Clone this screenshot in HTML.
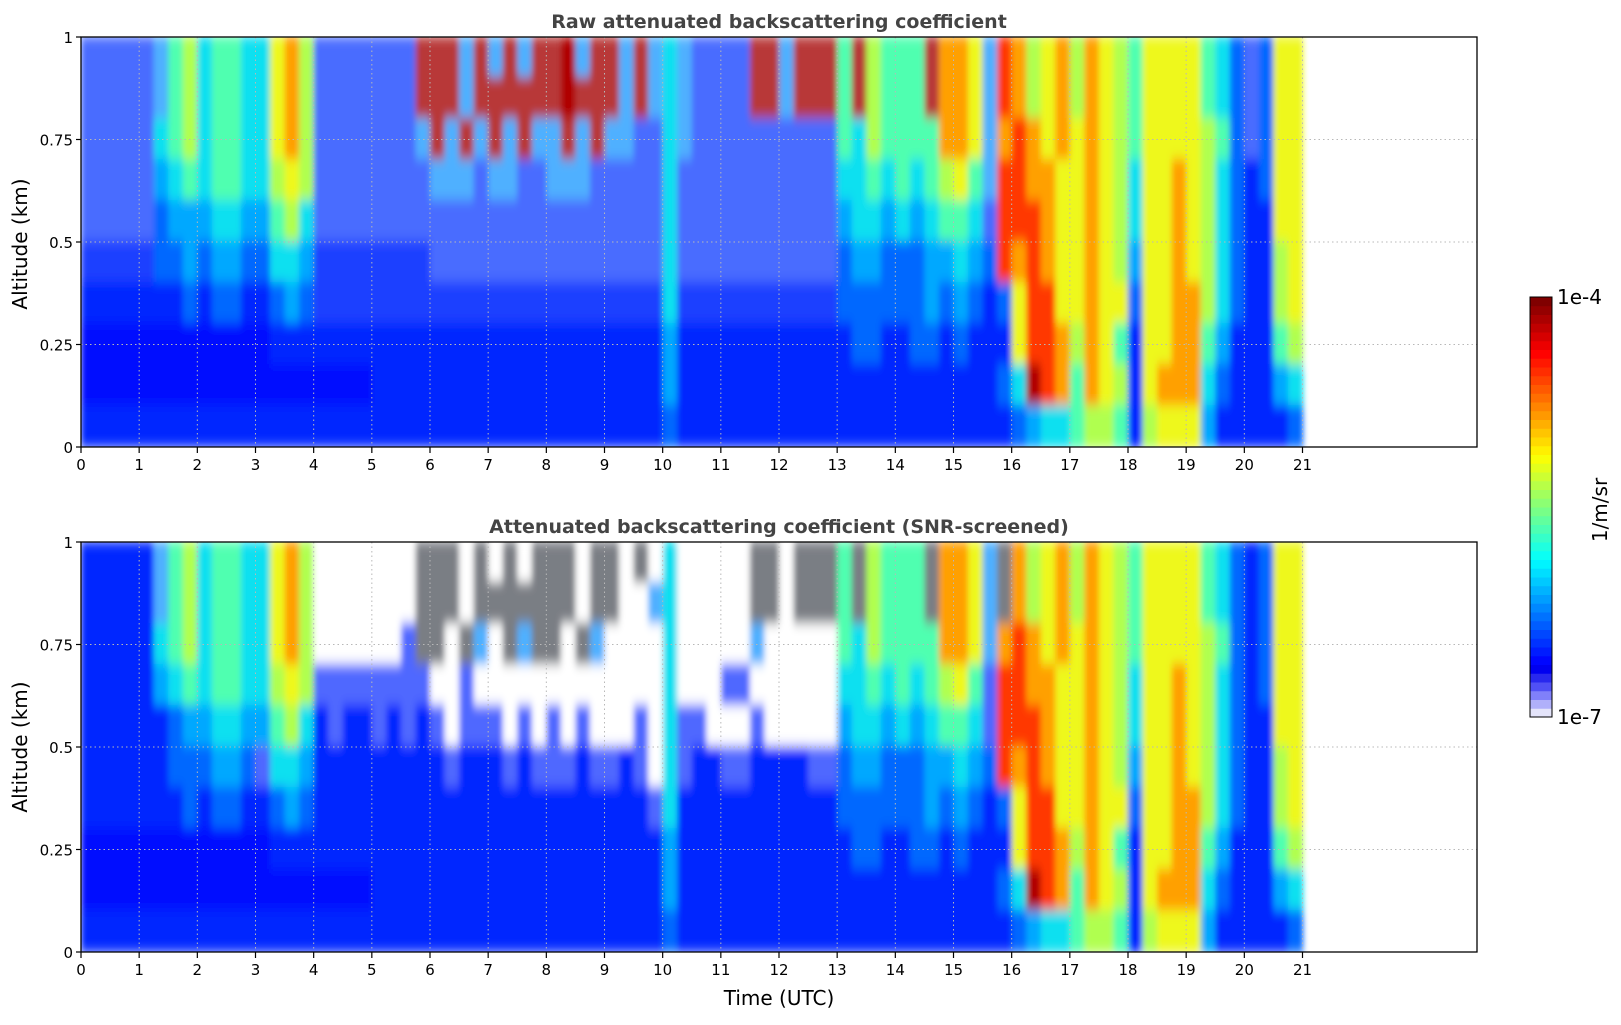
<!DOCTYPE html>
<html><head><meta charset="utf-8"><title>Attenuated backscatter</title>
<style>
html,body{margin:0;padding:0;background:#fff;}
svg text{font-family:"DejaVu Sans","Liberation Sans",sans-serif;}
</style></head>
<body>
<svg id="chart" xmlns="http://www.w3.org/2000/svg" width="1621" height="1020" viewBox="0 0 1621 1020">
<defs>
<clipPath id="clipTop"><rect x="81" y="37" width="1396" height="410"/></clipPath>
<clipPath id="clipBot"><rect x="81" y="542" width="1396" height="410"/></clipPath>
<filter id="soft" x="-5%" y="-5%" width="110%" height="110%"><feGaussianBlur stdDeviation="3 6"/></filter>
</defs>
<text x="779" y="28" text-anchor="middle" font-size="19" font-weight="bold" fill="#444">Raw attenuated backscattering coefficient</text>
<text x="779" y="533" text-anchor="middle" font-size="19" font-weight="bold" fill="#444">Attenuated backscattering coefficient (SNR-screened)</text>
<g id="topPanel"></g>
<g id="botPanel"></g>
<text x="779" y="1005" text-anchor="middle" font-size="20" fill="#000">Time (UTC)</text>
<text transform="translate(27,244) rotate(-90)" text-anchor="middle" font-size="20">Altitude (km)</text>
<text transform="translate(27,747) rotate(-90)" text-anchor="middle" font-size="20">Altitude (km)</text>
<g id="cbar"></g>
<text x="1557" y="304" font-size="20">1e-4</text>
<text x="1557" y="724" font-size="20">1e-7</text>
<text transform="translate(1607,510) rotate(-90)" text-anchor="middle" font-size="20">1/m/sr</text>
</svg>
<script>
// ---- data: 0.25 h time bins (0-21 h), rows of 0.1 km from top (0.9-1.0) to bottom (0-0.1)
const timeTicks = [0,1,2,3,4,5,6,7,8,9,10,11,12,13,14,15,16,17,18,19,20,21];
const altTicks = [0,0.25,0.5,0.75,1];
const altTickLabels = ["0","0.25","0.5","0.75","1"];
const binHours = 0.25;
const binKm = 0.1;
const rawRows = [
"nnnn nc67 5665 5897 nnnn nnnx xxcx cxcx xdcx xcxc 5cnn nnxx cxxx 6x76 66x9 98cr 9789 7987 6888 8653 n388",
"nnnn nc67 5665 5897 nnnn nnnx xxcx xxxx xdxx xcxc 5cnn nnxx cxxx 6x76 66x9 98cr 9789 7987 6888 8653 n388",
"nnnn n567 5665 5897 nnnn nnnc xcxc xcxc cxcx ccnn 5cnn nnnn nnnn 6576 6669 98c9 r989 8987 6888 8763 n388",
"nnnn n456 5665 5787 nnnn nnnn cccn ccnn cccn nnnn 5nnn nnnn nnnn 5565 6567 86cr r998 8987 5889 8753 2388",
"nnnn n344 4554 4675 nnnn nnnn nnnn nnnn nnnn nnnn 5nnn nnnn nnnn 4554 5456 65nr rr98 8987 5889 8753 2288",
"oooo o334 3443 3554 oooo oooo nnnn nnnn nnnn nnnn 5nnn nnnn nnnn 3443 3344 543r 9r98 8987 4889 8753 2278",
"2222 2223 2332 2343 oooo oooo oooo oooo oooo oooo 5ooo oooo oooo 3333 3343 4323 8rr8 8988 3889 9753 2278",
"1111 1111 1111 1222 2222 2222 2222 2222 2222 2222 4222 2222 2222 2332 2332 3222 8rr9 7986 2889 9642 2267",
"1111 1111 1111 1111 1111 2222 2222 2222 2222 2222 4222 2222 2222 2222 2222 2223 5dr9 6987 2899 9532 2245",
"2222 2222 2222 2222 2222 2222 2222 2222 2222 2222 3222 2222 2222 2222 2222 2222 3455 6776 2788 8422 2223"
];
const screenedRows = [
"2222 2c67 5665 5897 .... ...k kk.k .k.k kk.k k.k. 5... ..kk .kkk 6k76 66k9 98ck 9789 7987 6888 8653 2388",
"2222 2c67 5665 5897 .... ...k kk.k kkkk kk.k k..c 5... ..kk .kkk 6k76 66k9 98ck 9789 7987 6888 8653 2388",
"2222 2567 5665 5897 .... ..pk k.kc .kck k.kc .... 5... ..c. .... 6576 6669 98c9 r989 8987 6888 8763 2388",
"2222 2456 5665 5787 pppp pppp ..p. .... .... .... 5... pp.. .... 5565 6567 86pr r998 8987 5889 8753 2388",
"2222 2234 4554 4675 2p22 p2p2 p.pp p.p. p.p. ..p. 5pp. ..p. .... 4554 5456 65pr rr98 8987 5889 8753 2288",
"2222 2233 3443 p554 2222 2222 2p22 2p2p pp2p p2p. 5p22 pp22 22pp 3443 3344 543r 9r98 8987 4889 8753 2278",
"2222 2223 2332 2343 2222 2222 2222 2222 2222 222p 5222 2222 2222 3333 3343 4323 8rr8 8988 3889 9753 2278",
"1111 1111 1111 1222 2222 2222 2222 2222 2222 2222 4222 2222 2222 2332 2332 3222 8rr9 7986 2889 9642 2267",
"1111 1111 1111 1111 1111 2222 2222 2222 2222 2222 4222 2222 2222 2222 2222 2223 5dr9 6987 2899 9532 2245",
"2222 2222 2222 2222 2222 2222 2222 2222 2222 2222 3222 2222 2222 2222 2222 2222 3455 6776 2788 8422 2223"
];
// ---- styling
const levelColors = {'.':'#ffffff','n':'#4a6cff','o':'#1c40ff','c':'#50b0ff','x':'#b83838','k':'#7a7e84','p':'#5068ff',
 '1':'#0010ff','2':'#0028ff','3':'#0068ff','4':'#00a8ff','5':'#10e0f0','6':'#50ffb0','7':'#b0ff50','8':'#eef81c','9':'#ffa000','r':'#ff3800','d':'#b00000'};
const NS = 'http://www.w3.org/2000/svg';
const X0 = 81, X1 = 1477, TMAX = 24, PH = 410;
function xs(t){ return X0 + t / TMAX * (X1 - X0); }
function ys(a, top){ return top + (1 - a) * PH; }
function mk(tag, attrs, parent){ const e = document.createElementNS(NS, tag); for (const k in attrs) e.setAttribute(k, attrs[k]); parent.appendChild(e); return e; }

function drawPanel(gid, rows, top, clipId, nameBase){
  const g = document.getElementById(gid);
  const clipG = mk('g', {'clip-path':'url(#'+clipId+')'}, g);
  const hm = mk('g', {filter:'url(#soft)'}, clipG);
  
  
  rows.forEach((rowStr, r) => {
    const s = rowStr.replace(/ /g, '');
    const aTop = 1 - r * binKm, aBot = 1 - (r + 1) * binKm;
    for (let c = 0; c < s.length; c++) {
      const t0 = c * binHours, t1 = (c + 1) * binHours;
      const rc = mk('rect', {x: xs(t0), y: ys(aTop, top) - 1, width: xs(t1) - xs(t0) + 0.6, height: ys(aBot, top) - ys(aTop, top) + 2, fill: levelColors[s[c]] || '#0028ff'}, hm);
      
      
    }
  });
  timeTicks.forEach(t => {
    const l = mk('line', {x1: xs(t), x2: xs(t), y1: top, y2: top + PH, stroke: '#b8b8b8', 'stroke-width': 1, 'stroke-dasharray': '1.5 3'}, g);
    
    
  });
  altTicks.forEach(a => {
    const l = mk('line', {x1: X0, x2: X1, y1: ys(a, top), y2: ys(a, top), stroke: '#b8b8b8', 'stroke-width': 1, 'stroke-dasharray': '1.5 3'}, g);
    
    
  });
  const fr = mk('rect', {x: X0, y: top, width: X1 - X0, height: PH, fill: 'none', stroke: '#000', 'stroke-width': 1.3}, g);
  
  
  timeTicks.forEach(t => {
    const tk = mk('line', {x1: xs(t), x2: xs(t), y1: top + PH, y2: top + PH + 6, stroke: '#000', 'stroke-width': 1.2}, g);
    
    
    const tx = mk('text', {x: xs(t), y: top + PH + 23, 'text-anchor': 'middle', 'font-size': 15}, g);
    tx.textContent = String(t);
    
    
  });
  altTicks.forEach((a, i) => {
    const tk = mk('line', {x1: X0 - 5, x2: X0, y1: ys(a, top), y2: ys(a, top), stroke: '#000', 'stroke-width': 1.2}, g);
    
    
    const tx = mk('text', {x: X0 - 8, y: ys(a, top) + 6, 'text-anchor': 'end', 'font-size': 15}, g);
    tx.textContent = altTickLabels[i];
    
    
  });
}
drawPanel('topPanel', rawRows, 37, 'clipTop', 'raw');
drawPanel('botPanel', screenedRows, 542, 'clipBot', 'screened');

(function(){
  const g = document.getElementById('cbar');
  const cx = 1530, cw = 22, cTop = 297, cBot = 717, n = 48;
  function jet(v){ const r = Math.min(Math.max(1.5 - Math.abs(4*v - 3), 0), 1), gg = Math.min(Math.max(1.5 - Math.abs(4*v - 2), 0), 1), b = Math.min(Math.max(1.5 - Math.abs(4*v - 1), 0), 1); return 'rgb(' + Math.round(r*255) + ',' + Math.round(gg*255) + ',' + Math.round(b*255) + ')'; }
  const low = ['#e4e4fa','#b0b0fa','#8080fa','#5050f5','#2828ee'];
  const h = (cBot - cTop) / n;
  for (let i = 0; i < n; i++) {
    let col;
    if (i < low.length) col = low[i];
    else col = jet(0.11 + 0.89 * (i - low.length) / (n - low.length - 1));
    const rc = mk('rect', {x: cx, y: cBot - (i + 1) * h, width: cw, height: h + 0.5, fill: col}, g);
    
    
  }
  const fr = mk('rect', {x: cx, y: cTop, width: cw, height: cBot - cTop, fill: 'none', stroke: '#000', 'stroke-width': 1}, g);
  
  
})();
</script>
</body></html>
